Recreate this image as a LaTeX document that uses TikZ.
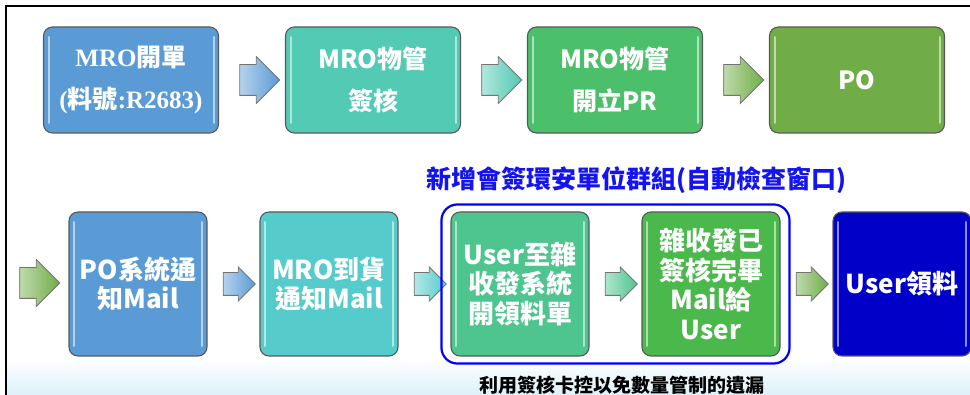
\documentclass[tikz,border=0pt]{standalone}
\usepackage{fontspec}
\setmainfont{Noto Sans CJK TC}
\newfontfamily\romanpart{Liberation Serif}
\usetikzlibrary{shapes.arrows,calc,fit}

\definecolor{boxblue}{HTML}{5B9BD5}
\definecolor{boxteal}{HTML}{52CAB4}
\definecolor{boxgreen}{HTML}{4CBF6A}
\definecolor{boxolive}{HTML}{70AD47}
\definecolor{boxcyan}{HTML}{56CBCB}
\definecolor{boxmint}{HTML}{4EC58F}
\definecolor{boxleaf}{HTML}{4BB84C}
\definecolor{boxnavy}{HTML}{0000C8}
\definecolor{headblue}{HTML}{1414F0}
\definecolor{skyline}{HTML}{DCF2FA}

\tikzset{
  stepbox/.style={draw=black!65, line width=1.1pt, rounded corners=9pt, fill=#1,
    text=white, align=center, inner sep=0pt,
    path picture={
      \draw[white, opacity=0.55, line width=2pt, line cap=round]
        ([xshift=5pt,yshift=-10pt]path picture bounding box.north west) --
        ([xshift=5pt,yshift=10pt]path picture bounding box.south west)
        ([xshift=-5pt,yshift=-10pt]path picture bounding box.north east) --
        ([xshift=-5pt,yshift=10pt]path picture bounding box.south east);
    }},
  toprow/.style={stepbox=#1, minimum width=175pt, minimum height=106pt,
    font=\fontsize{25}{42}\selectfont\bfseries},
  lowrow/.style={stepbox=#1, minimum width=138pt, minimum height=144pt,
    font=\fontsize{26}{29.5}\selectfont\bfseries},
  blockarrow/.style={single arrow, draw=black!55, line width=0.8pt,
    inner xsep=0pt, left color=#1!45!white, right color=#1},
  bigarrow/.style={blockarrow=#1, inner ysep=15pt, single arrow head extend=8pt,
    minimum height=40pt},
  smallarrow/.style={blockarrow=#1, inner ysep=11pt, single arrow head extend=5.5pt,
    minimum height=32pt},
  groupbox/.style={draw=blue, line width=2.2pt, rounded corners=16pt,
    inner xsep=9pt, inner ysep=7pt},
}

\begin{document}
\begin{tikzpicture}[x=1pt, y=-1pt]
\useasboundingbox (0,0) rectangle (970,395);

% frame and bottom band
\fill[top color=white, bottom color=skyline] (7,358) rectangle (970,395);
\draw[line width=1.6pt] (6,395) -- (6,6) -- (970,6);

% first row
\node[toprow=boxblue] (open) at (131,80)
  {{\romanpart MRO}開單\\{\romanpart(}料號{\romanpart:R2683)}};
\node[toprow=boxteal] (sign) at (373,80) {MRO物管\\簽核};
\node[toprow=boxgreen] (pr) at (615,80) {MRO物管\\開立PR};
\node[toprow=boxolive] (po) at (857,80) {PO};

\node[bigarrow=boxblue] (a1) at ($(open.east)!0.5!(sign.west)$) {};
\node[bigarrow=boxteal] (a2) at ($(sign.east)!0.5!(pr.west)$) {};
\node[bigarrow=boxolive] (a3) at ($(pr.east)!0.5!(po.west)$) {};

\node[font=\fontsize{25}{25}\selectfont\bfseries, text=headblue] (title)
  at (636,180) {新增會簽環安單位群組(自動檢查窗口)};

% second row
\node[bigarrow=boxolive] (a4) at (32,283) {};
\node[lowrow=boxblue] (mail) at (138,284) {PO系統通\\知Mail};
\node[lowrow=boxcyan] (arrive) at (329,284) {MRO到貨\\通知Mail};
\node[lowrow=boxmint] (form) at (520,284) {User至雜\\收發系統\\開領料單};
\node[lowrow=boxleaf] (done) at (711,284) {雜收發已\\簽核完畢\\Mail給\\User};
\node[lowrow=boxnavy] (take) at (902,284) {User領料};

\node[smallarrow=boxblue] (a5) at ($(mail.east)!0.5!(arrive.west)$) {};
\node[smallarrow=boxcyan] (a6) at ($(arrive.east)!0.5!(form.west)$) {};
\node[smallarrow=boxmint] (a7) at ($(form.east)!0.5!(done.west)$) {};
\node[smallarrow=boxolive] (a8) at ($(done.east)!0.5!(take.west)$) {};

\node[groupbox, fit=(form)(done)] (group) {};
\node[font=\fontsize{19}{19}\selectfont\bfseries] (note) at (622,385)
  {利用簽核卡控以免數量管制的遺漏};
\end{tikzpicture}
\end{document}
